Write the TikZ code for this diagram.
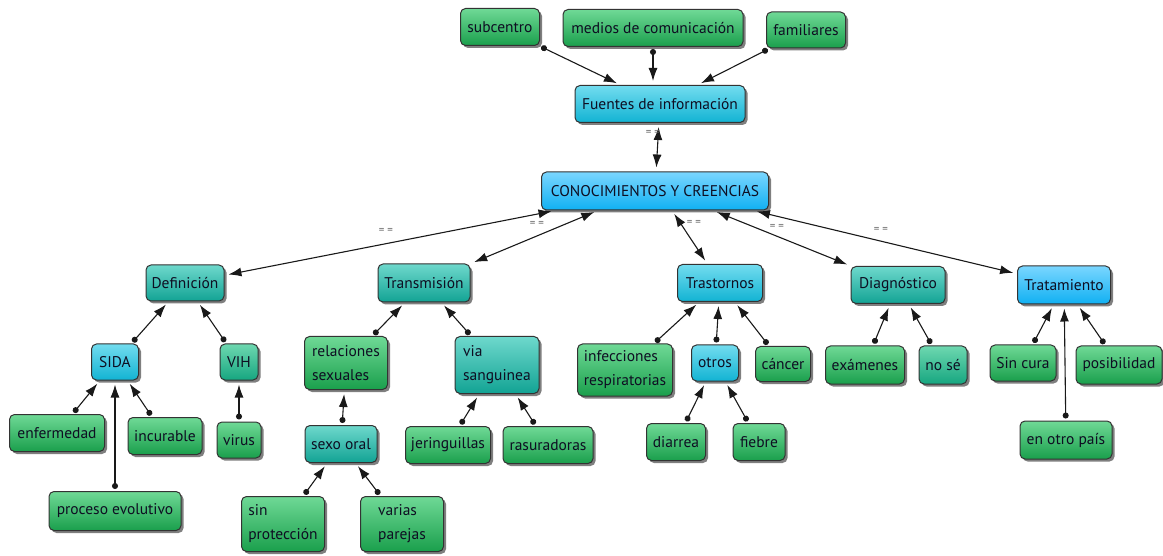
\documentclass[tikz,border=0pt]{standalone}
\usepackage{fontspec}
\setmainfont{PT Sans}
\usetikzlibrary{shadows,arrows.meta}
\definecolor{gT}{HTML}{6FD996}\definecolor{gB}{HTML}{1A9F4C}
\definecolor{tT}{HTML}{6ED8CC}\definecolor{tB}{HTML}{12A394}
\definecolor{cT}{HTML}{72DCEF}\definecolor{cB}{HTML}{12B3D3}
\definecolor{bT}{HTML}{7AD6FF}\definecolor{bB}{HTML}{10B0F2}
\definecolor{qT}{HTML}{6ED8B0}\definecolor{qB}{HTML}{16A680}
\definecolor{txt}{HTML}{0E0E22}
\tikzset{
  box/.style={draw=black!80, line width=1pt, rounded corners=5pt,
    drop shadow={shadow xshift=2.5pt, shadow yshift=-2.5pt, opacity=0.5, fill=black},
    font=\fontsize{15.5}{24}\selectfont, text=txt, inner xsep=5pt, inner ysep=3pt, align=left},
  gbox/.style={box, top color=gT, bottom color=gB},
  tbox/.style={box, top color=tT, bottom color=tB},
  cbox/.style={box, top color=cT, bottom color=cB},
  bbox/.style={box, top color=bT, bottom color=bB},
  qbox/.style={box, top color=qT, bottom color=qB},
  link/.style={{Circle[length=6pt,width=6pt]}-{Latex[length=13pt,width=9pt]}, line width=1.1pt, black!90, shorten >=4pt, shorten <=2pt},
  bi/.style={{Latex[length=13pt,width=9pt]}-{Latex[length=13pt,width=9pt]}, line width=1.1pt, black!90, shorten >=4pt, shorten <=4pt},
  eq/.style={font=\fontsize{11}{11}\selectfont, text=black!60, inner sep=0pt}
}
\begin{document}
\begin{tikzpicture}[x=1pt,y=-1pt]
\useasboundingbox (0,0) rectangle (1163,556);
% top
\node[gbox, minimum width=79pt, minimum height=37pt] (subcentro) at (500,27) {subcentro};
\node[gbox, minimum width=180pt, minimum height=37pt] (medios) at (653,28) {medios de comunicación};
\node[gbox, minimum width=79pt, minimum height=36pt] (familiares) at (806,30) {familiares};
\node[cbox, minimum width=170pt, minimum height=37pt] (fuentes) at (660,104) {Fuentes de información};
\node[bbox, minimum width=227pt, minimum height=38pt] (conoc) at (655,191) {CONOCIMIENTOS Y CREENCIAS};
% level 1
\node[tbox, minimum width=78pt, minimum height=36pt] (def) at (185,283) {Definición};
\node[tbox, minimum width=92pt, minimum height=38pt] (trans) at (424,283) {Transmisión};
\node[cbox, minimum width=85pt, minimum height=37pt] (trast) at (720,283) {Trastornos};
\node[tbox, minimum width=94pt, minimum height=37pt] (diag) at (898,285) {Diagnóstico};
\node[bbox, minimum width=93pt, minimum height=38pt] (trat) at (1064,285) {Tratamiento};
% Definicion
\node[cbox, minimum width=47pt, minimum height=36pt] (sida) at (115,362) {SIDA};
\node[qbox, minimum width=38pt, minimum height=36pt] (vih) at (239,362) {VIH};
\node[gbox, minimum width=95pt, minimum height=37pt] (enf) at (57,433) {enfermedad};
\node[gbox, minimum width=74pt, minimum height=37pt] (incur) at (165,436) {incurable};
\node[gbox, minimum width=44pt, minimum height=36pt] (virus) at (239,440) {virus};
\node[gbox, minimum width=132pt, minimum height=39pt] (proc) at (115,511) {proceso evolutivo};
% Transmision
\node[gbox, minimum width=83pt, minimum height=53pt] (rel) at (346,363) {relaciones\\sexuales};
\node[tbox, minimum width=72pt, minimum height=37pt] (sexo) at (341,444) {sexo oral};
\node[gbox, minimum width=83pt, minimum height=55pt] (sinp) at (283,524) {sin\\protección};
\node[gbox, minimum width=83pt, minimum height=55pt] (varias) at (402,524) {varias\\parejas};
\node[tbox, minimum width=84pt, minimum height=57pt] (via) at (497,365) {via\\sanguinea};
\node[gbox, minimum width=85pt, minimum height=37pt] (jer) at (448,445) {jeringuillas};
\node[gbox, minimum width=90pt, minimum height=37pt] (ras) at (548,445) {rasuradoras};
% Trastornos
\node[gbox, minimum width=95pt, minimum height=52pt] (inf) at (625,370) {infecciones\\respiratorias};
\node[cbox, minimum width=47pt, minimum height=36pt] (otros) at (715,363) {otros};
\node[gbox, minimum width=55pt, minimum height=35pt] (cancer) at (783,364) {cáncer};
\node[gbox, minimum width=59pt, minimum height=37pt] (diarrea) at (676,442) {diarrea};
\node[gbox, minimum width=52pt, minimum height=37pt] (fiebre) at (759,442) {fiebre};
% Diagnostico
\node[gbox, minimum width=79pt, minimum height=38pt] (exam) at (865,365) {exámenes};
\node[qbox, minimum width=48pt, minimum height=38pt] (nose) at (943,365) {no sé};
% Tratamiento
\node[gbox, minimum width=66pt, minimum height=36pt] (sincura) at (1023,363) {Sin cura};
\node[gbox, minimum width=86pt, minimum height=38pt] (posib) at (1119,365) {posibilidad};
\node[gbox, minimum width=92pt, minimum height=38pt] (otro) at (1066,440) {en otro país};
% connectors top
\draw[link] (subcentro) -- (fuentes);
\draw[link] (medios.south) -- (medios.south |- fuentes.north);
\draw[link] (familiares) -- (fuentes);
\draw[bi] (fuentes) -- (conoc);
% level 1
\draw[bi] (conoc) -- (def);
\draw[bi] ([xshift=-57pt]conoc.south) -- (trans);
\draw[bi] ([xshift=17pt]conoc.south) -- (trast);
\draw[bi] ([xshift=58pt]conoc.south) -- (diag);
\draw[bi] ([xshift=98pt]conoc.south) -- (trat);
% level 2
\draw[link] (sida) -- (def);
\draw[link] (vih) -- (def);
\draw[link] (enf) -- (sida);
\draw[link] (proc) -- (sida);
\draw[link] (incur) -- (sida);
\draw[link] (virus) -- (vih);
\draw[link] (rel) -- (trans);
\draw[link] (via) -- (trans);
\draw[link] (sexo) -- (rel);
\draw[link] (sinp) -- (sexo);
\draw[link] (varias) -- (sexo);
\draw[link] (jer) -- (via);
\draw[link] (ras) -- (via);
\draw[link] (inf) -- (trast);
\draw[link] (otros) -- (trast);
\draw[link] (cancer) -- (trast);
\draw[link] (diarrea) -- (otros);
\draw[link] (fiebre) -- (otros);
\draw[link] (exam) -- (diag);
\draw[link] (nose) -- (diag);
\draw[link] (sincura) -- (trat);
\draw[link] (otro) -- (trat);
\draw[link] (posib) -- (trat);
% labels
\node[eq] (e1) at (653,133) {= =};
\node[eq] (e2) at (386,231) {= =};
\node[eq] (e3) at (537,224) {= =};
\node[eq] (e4) at (694,223) {= =};
\node[eq] (e5) at (777,227) {= =};
\node[eq] (e6) at (881,230) {= =};
\end{tikzpicture}
\end{document}
